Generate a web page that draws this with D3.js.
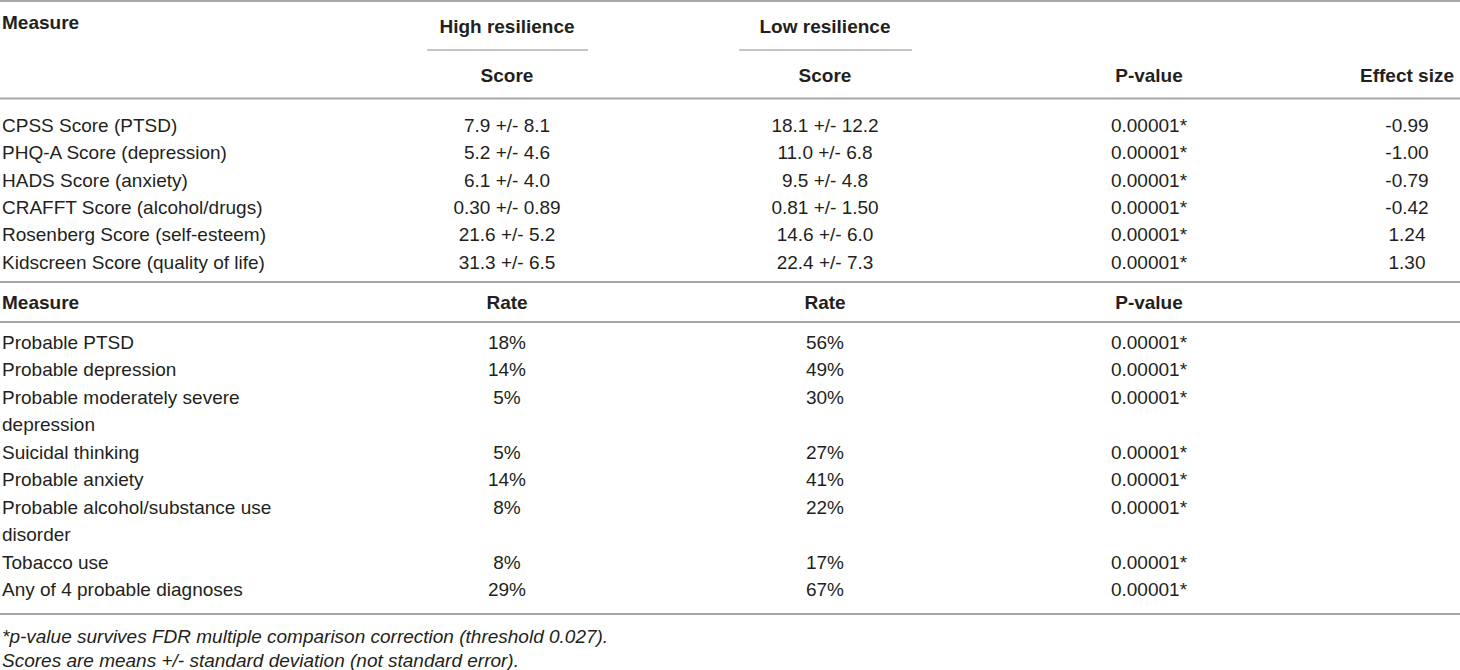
<!DOCTYPE html>
<html>
<head>
<meta charset="utf-8">
<script src="https://cdn.jsdelivr.net/npm/d3@7"></script>
<style>
  html, body { margin: 0; padding: 0; background: #fff; }
  svg { display: block; }
  text { font-family: "Liberation Sans", Arial, Helvetica, sans-serif; fill: #231f20; }
</style>
</head>
<body>
<svg id="chart" width="1460" height="670"></svg>
<script>
// ---- data ----
const groups = ["High resilience", "Low resilience"];
const scoreMeasures = [
  "CPSS Score (PTSD)",
  "PHQ-A Score (depression)",
  "HADS Score (anxiety)",
  "CRAFFT Score (alcohol/drugs)",
  "Rosenberg Score (self-esteem)",
  "Kidscreen Score (quality of life)"
];
const scoreHigh = ["7.9 +/- 8.1", "5.2 +/- 4.6", "6.1 +/- 4.0", "0.30 +/- 0.89", "21.6 +/- 5.2", "31.3 +/- 6.5"];
const scoreLow  = ["18.1 +/- 12.2", "11.0 +/- 6.8", "9.5 +/- 4.8", "0.81 +/- 1.50", "14.6 +/- 6.0", "22.4 +/- 7.3"];
const scoreP    = ["0.00001*", "0.00001*", "0.00001*", "0.00001*", "0.00001*", "0.00001*"];
const scoreEffect = ["-0.99", "-1.00", "-0.79", "-0.42", "1.24", "1.30"];

const rateMeasures = [
  ["Probable PTSD"],
  ["Probable depression"],
  ["Probable moderately severe", "depression"],
  ["Suicidal thinking"],
  ["Probable anxiety"],
  ["Probable alcohol/substance use", "disorder"],
  ["Tobacco use"],
  ["Any of 4 probable diagnoses"]
];
const rateHigh = ["18%", "14%", "5%", "5%", "14%", "8%", "8%", "29%"];
const rateLow  = ["56%", "49%", "30%", "27%", "41%", "22%", "17%", "67%"];
const rateP    = ["0.00001*", "0.00001*", "0.00001*", "0.00001*", "0.00001*", "0.00001*", "0.00001*", "0.00001*"];

const headers1 = ["Score", "Score", "P-value", "Effect size"];
const headers2 = ["Rate", "Rate", "P-value"];
const footnotes = [
  "*p-value survives FDR multiple comparison correction (threshold 0.027).",
  "Scores are means +/- standard deviation (not standard error)."
];

// ---- layout ----
const svg = d3.select("#chart");
const FS = 19;
const colX = d3.scaleOrdinal().domain(["measure", "high", "low", "p", "effect"])
  .range([2, 507, 825, 1149, 1407]);
const cols = ["high", "low", "p", "effect"];

const lineStroke = "#a7a7a7";
function hline(x1, x2, y, w, c) {
  svg.append("line").attr("x1", x1).attr("x2", x2).attr("y1", y).attr("y2", y)
    .attr("stroke", c || lineStroke).attr("stroke-width", w || 2);
}
function txt(x, y, s, opts) {
  opts = opts || {};
  return svg.append("text").attr("x", x).attr("y", y).attr("dy", "0.36em")
    .attr("font-size", opts.fs || FS)
    .attr("font-weight", opts.bold ? "bold" : null)
    .attr("font-style", opts.italic ? "italic" : null)
    .attr("text-anchor", opts.anchor || "start")
    .text(s);
}

// top rule
hline(0, 1460, 1, 2);

// header
txt(colX("measure"), 22, "Measure", {bold: true});
const spanX = d3.scaleOrdinal().domain(groups).range([[427, 588], [739, 912]]);
groups.forEach((g, i) => {
  const c = colX(i === 0 ? "high" : "low");
  txt(c, 26, g, {bold: true, anchor: "middle"});
  const s = spanX(g);
  hline(s[0], s[1], 50, 1, "#8a8a8a");
});
headers1.forEach((h, i) => txt(colX(cols[i]), 75, h, {bold: true, anchor: "middle"}));
hline(0, 1460, 98.5, 2);

// section 1 rows
const y1 = d3.scaleLinear().domain([0, 5]).range([125, 262]);
scoreMeasures.forEach((m, i) => {
  const y = y1(i);
  txt(colX("measure"), y, m);
  txt(colX("high"), y, scoreHigh[i], {anchor: "middle"});
  txt(colX("low"), y, scoreLow[i], {anchor: "middle"});
  txt(colX("p"), y, scoreP[i], {anchor: "middle"});
  txt(colX("effect"), y, scoreEffect[i], {anchor: "middle"});
});
hline(0, 1460, 282, 2);

// section 2 header
txt(colX("measure"), 302, "Measure", {bold: true});
headers2.forEach((h, i) => txt(colX(cols[i]), 302, h, {bold: true, anchor: "middle"}));
hline(0, 1460, 322, 2);

// section 2 rows
const y2 = d3.scaleLinear().domain([0, 1]).range([342, 369.5]);
let line = 0;
rateMeasures.forEach((m, i) => {
  const y = y2(line);
  m.forEach((part, k) => txt(colX("measure"), y2(line + k), part));
  txt(colX("high"), y, rateHigh[i], {anchor: "middle"});
  txt(colX("low"), y, rateLow[i], {anchor: "middle"});
  txt(colX("p"), y, rateP[i], {anchor: "middle"});
  line += m.length;
});
hline(0, 1460, 614, 2);

// footnotes
const yf = d3.scaleLinear().domain([0, 1]).range([636, 660]);
footnotes.forEach((f, i) => txt(colX("measure"), yf(i), f, {italic: true, fs: 19}));
</script>
</body>
</html>
